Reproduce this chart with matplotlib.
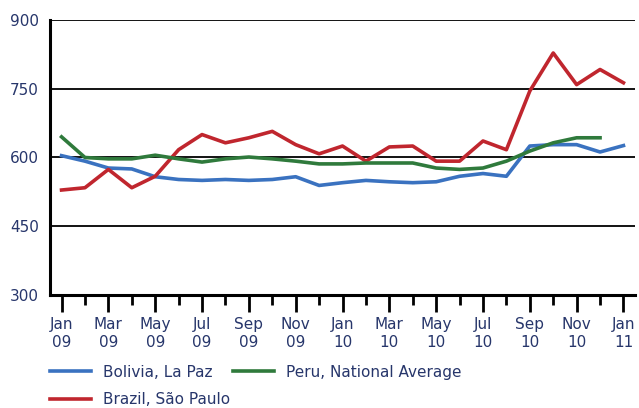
import matplotlib.pyplot as plt
import numpy as np

months = ['Jan\n09', '', 'Mar\n09', '', 'May\n09', '', 'Jul\n09', '', 'Sep\n09', '', 'Nov\n09', '',
          'Jan\n10', '', 'Mar\n10', '', 'May\n10', '', 'Jul\n10', '', 'Sep\n10', '', 'Nov\n10', '',
          'Jan\n11']
bolivia = [604, 592, 577, 575, 558, 552, 550, 552, 550, 552, 558, 539,
           545, 550, 547, 545, 547, 559, 565, 559, 625, 628, 628, 612, 626]
brazil = [529, 534, 574, 534, 559, 617, 650, 632, 643, 657, 628, 608,
          625, 592, 623, 625, 592, 592, 636, 617, 745, 828, 759, 792, 763]
peru = [645, 600, 597, 597, 605, 597, 590, 597, 601, 597, 592, 586,
        586, 588, 588, 588, 577, 574, 577, 592, 614, 632, 643, 643]

text_color = '#27366b'

fig = plt.figure(figsize=(6.39, 4.08), dpi=100)
ax = fig.add_axes([0.078, 0.277, 0.916, 0.674])

x = np.arange(len(months))
l1, = ax.plot(x, bolivia, color='#3a72c0', lw=2.6, label='Bolivia, La Paz')
l2, = ax.plot(x, brazil, color='#c0262e', lw=2.6, label='Brazil, S\u00e3o Paulo')
l3, = ax.plot(np.arange(len(peru)), peru, color='#2f7a3c', lw=2.6, label='Peru, National Average')

for yv in [450, 600, 750, 900]:
    ax.axhline(yv, color='black', lw=1.3, zorder=0)

ax.set_ylim(300, 900)
ax.set_xlim(-0.5, 24.5)
ax.set_yticks([300, 450, 600, 750, 900])
ax.tick_params(axis='y', length=0, labelsize=11, labelcolor=text_color, pad=8)

ax.set_xticks(x[::2])
ax.set_xticklabels(months[::2])
ax.set_xticks(x[1::2], minor=True)
ax.tick_params(axis='x', which='major', direction='out', length=12, width=2,
               labelsize=11, labelcolor=text_color, pad=4)
ax.tick_params(axis='x', which='minor', direction='out', length=7, width=2)

for s in ['top', 'right']:
    ax.spines[s].set_visible(False)
for s in ['left', 'bottom']:
    ax.spines[s].set_linewidth(2.2)

leg_kw = dict(loc='center left', frameon=False, fontsize=11, handlelength=2.7,
              handletextpad=0.8, borderpad=0, borderaxespad=0, labelcolor=text_color)
fig.legend(handles=[l1, l3], ncol=2, columnspacing=1.3,
           bbox_to_anchor=(0.078, 0.088), **leg_kw)
fig.legend(handles=[l2], bbox_to_anchor=(0.078, 0.02), **leg_kw)

fig.savefig('out.png', dpi=100)
